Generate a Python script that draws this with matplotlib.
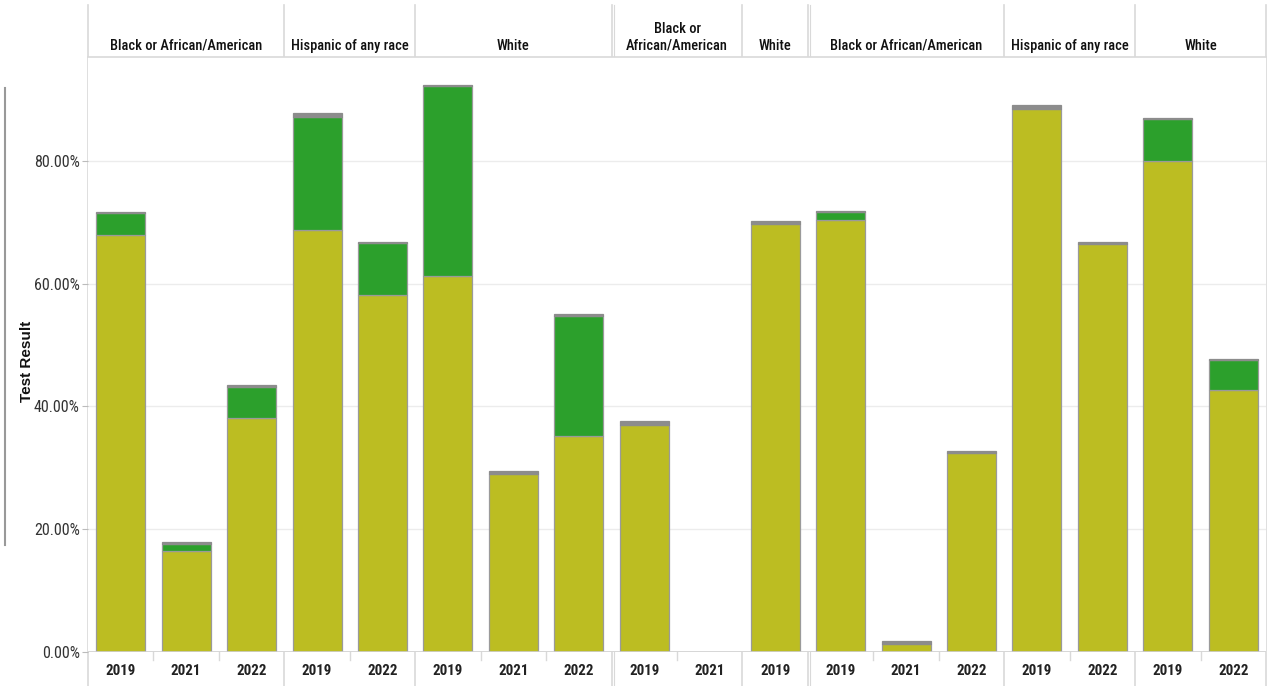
import matplotlib
matplotlib.use("Agg")
import matplotlib.pyplot as plt
from matplotlib.ticker import FuncFormatter
from matplotlib.lines import Line2D
from matplotlib import font_manager

# ---- data ----
groups = ["Black or African/American", "Hispanic of any race", "White",
          "Black or\nAfrican/American", "White",
          "Black or African/American", "Hispanic of any race", "White"]
years = [["2019", "2021", "2022"], ["2019", "2022"], ["2019", "2021", "2022"],
         ["2019", "2021"], ["2019"],
         ["2019", "2021", "2022"], ["2019", "2022"], ["2019", "2022"]]
olive = [[67.9, 16.4, 38.1], [68.8, 58.2], [61.3, 29.0, 35.2],
         [37.0, 0.0], [69.7],
         [70.4, 1.3, 32.4], [88.5, 66.4], [80.0, 42.6]]
green = [[3.6, 1.2, 5.1], [18.4, 8.4], [30.9, 0.0, 19.5],
         [0.0, 0.0], [0.0],
         [1.2, 0.0, 0.0], [0.0, 0.0], [6.8, 4.9]]
grey = [[0.1, 0.3, 0.3], [0.5, 0.2], [0.2, 0.5, 0.4],
        [0.6, 0.0], [0.5],
        [0.2, 0.5, 0.4], [0.6, 0.4], [0.1, 0.2]]
yticks = [0, 20, 40, 60, 80]

C_OLIVE = "#bcbd22"
C_GREEN = "#2ca02c"
C_GREY = "#8c8c8c"
EDGE = "#9a9a9a"
SEP = "#d9d9d9"

installed = {f.name for f in font_manager.fontManager.ttflist}
cond = None
for cand in ["Liberation Sans Narrow", "Roboto Condensed", "DejaVu Sans Condensed", "Open Sans Condensed"]:
    if cand in installed:
        cond = cand
        break
if cond:
    FAM = [cond, 'Liberation Sans', 'DejaVu Sans']
    scale = 1.0
else:
    FAM = ['Liberation Sans', 'DejaVu Sans']
    scale = 0.88
plt.rcParams['font.family'] = FAM

W, H = 1268, 686
fig = plt.figure(figsize=(W / 100, H / 100), dpi=100)
x0, x1 = 88, 1266
ytop, ybot = 57, 652
ax = fig.add_axes([x0 / W, (H - ybot) / H, (x1 - x0) / W, (ybot - ytop) / H])

nslots = sum(len(y) for y in years)
ax.set_xlim(0, nslots)
ax.set_ylim(0, 96.9)

pos = 0
boundaries = []
for gi, g in enumerate(groups):
    n = len(years[gi])
    xs = [pos + i + 0.5 for i in range(n)]
    for i, xc in enumerate(xs):
        o, gr, gy = olive[gi][i], green[gi][i], grey[gi][i]
        if o + gr + gy > 0:
            ax.bar(xc, o, width=0.75, color=C_OLIVE, edgecolor=EDGE, linewidth=0.9, zorder=3)
            if gr > 0:
                ax.bar(xc, gr, bottom=o, width=0.75, color=C_GREEN, edgecolor=EDGE, linewidth=0.9, zorder=3)
            if gy > 0:
                ax.bar(xc, gy, bottom=o + gr, width=0.75, color=C_GREY, edgecolor=C_GREY, linewidth=0.9, zorder=3)
        ax.text(xc, -1.9, years[gi][i], ha="center", va="top", fontsize=10.8 * scale,
                fontweight="bold", color="#222222")
    xc_fig = (x0 + (pos + n / 2) / nslots * (x1 - x0)) / W
    fig.text(xc_fig, (H - 53) / H, g, ha="center", va="bottom", fontsize=10.4 * scale,
             fontweight="medium", color="#111111", linespacing=1.25)
    for i in range(1, n):
        ax.plot([pos + i, pos + i], [0, -1.3], color=SEP, lw=1, clip_on=False, zorder=1)
    pos += n
    boundaries.append(pos)

for t in yticks[1:]:
    ax.axhline(t, color="#ececec", lw=1, zorder=0)
ax.axhline(0, color="#d0d0d0", lw=1.2, zorder=4)

ax.set_yticks(yticks)
ax.yaxis.set_major_formatter(FuncFormatter(lambda v, p: f"{v:.2f}%"))
ax.tick_params(axis="y", length=4, color="#bbbbbb", labelsize=11.5 * scale, labelcolor="#333333", pad=2)
ax.tick_params(axis="x", length=0, labelbottom=False)
for s in ax.spines.values():
    s.set_visible(False)

fig.text(27 / W, 1 - 361 / H, "Test Result", rotation=90, ha="center", va="center",
         fontsize=11, fontweight="bold", family=['Liberation Sans', 'DejaVu Sans'], color="#111111")

def vline_px(xpx, y_top_px=5, y_bot_px=686, color=SEP, lw=1.2):
    fig.add_artist(Line2D([xpx / W, xpx / W], [1 - y_top_px / H, 1 - y_bot_px / H],
                          color=color, lw=lw, transform=fig.transFigure, zorder=0))

vline_px(x0)
for b in boundaries:
    vline_px(x0 + b / nslots * (x1 - x0))
for b in (boundaries[2], boundaries[4]):
    vline_px(x0 + b / nslots * (x1 - x0) + 2.5, lw=0.8)

fig.add_artist(Line2D([x0 / W, x1 / W], [1 - ytop / H, 1 - ytop / H],
                      color=SEP, lw=1.2, transform=fig.transFigure))
fig.add_artist(Line2D([5 / W, 5 / W], [1 - 88 / H, 1 - 545 / H],
                      color="#999999", lw=1.5, transform=fig.transFigure))

fig.savefig("out.png", dpi=100, facecolor="white")
